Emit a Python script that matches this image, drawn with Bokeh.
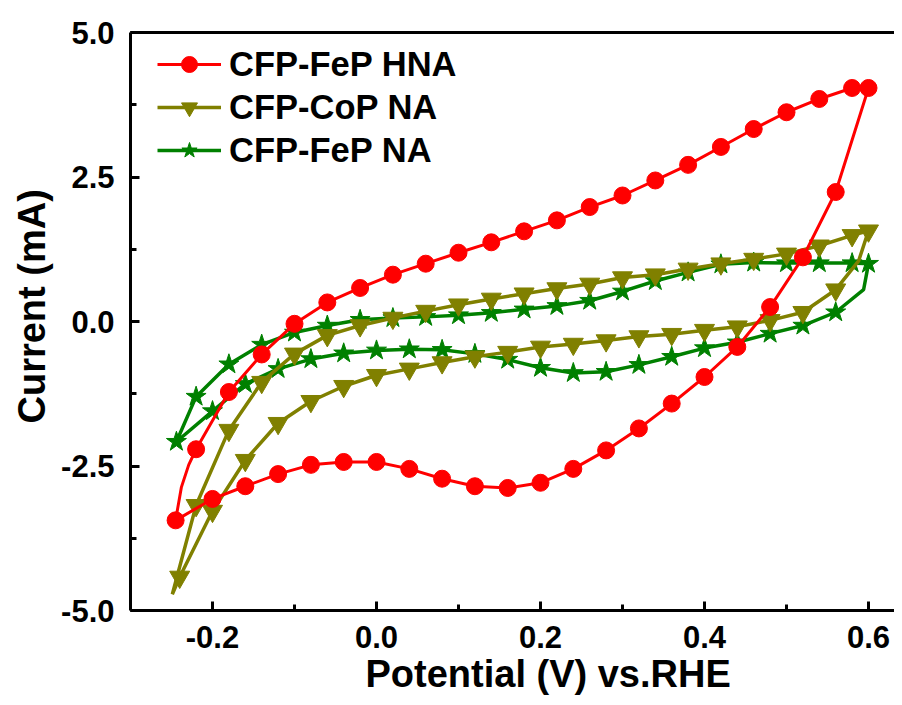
from bokeh.plotting import figure
from bokeh.models import (Range1d, SingleIntervalTicker, PrintfTickFormatter, LinearAxis,
                          FixedTicker, Title, Legend, LegendItem)
from bokeh.embed import file_html
from bokeh.resources import INLINE

# ---------------- data ----------------
# CFP-FeP HNA : anodic (forward) branch markers
hna_fwd_v = [-0.245, -0.22, -0.18, -0.14, -0.10, -0.06, -0.02, 0.02, 0.06, 0.10, 0.14, 0.18,
             0.22, 0.26, 0.30, 0.34, 0.38, 0.42, 0.46, 0.50, 0.54, 0.58, 0.60]
hna_fwd_i = [-3.44, -2.21, -1.22, -0.57, -0.04, 0.33, 0.58, 0.81, 1.00, 1.19, 1.37, 1.56,
             1.75, 1.98, 2.18, 2.44, 2.71, 3.02, 3.33, 3.62, 3.85, 4.04, 4.04]
# cathodic (reverse) branch markers
hna_rev_v = [0.56, 0.52, 0.48, 0.44, 0.40, 0.36, 0.32, 0.28, 0.24, 0.20, 0.16, 0.12,
             0.08, 0.04, 0.00, -0.04, -0.08, -0.12, -0.16, -0.20]
hna_rev_i = [2.24, 1.11, 0.25, -0.44, -0.96, -1.42, -1.85, -2.23, -2.55, -2.79, -2.88, -2.85,
             -2.72, -2.55, -2.43, -2.43, -2.48, -2.64, -2.85, -3.07]
# curve points without markers (lower-left bend)
hna_bend_v = [-0.238, -0.229]
hna_bend_i = [-2.87, -2.48]

# CFP-CoP NA
cop_fwd_v = [-0.22, -0.18, -0.14, -0.10, -0.06, -0.02, 0.02, 0.06, 0.10, 0.14, 0.18, 0.22,
             0.26, 0.30, 0.34, 0.38, 0.42, 0.46, 0.50, 0.54, 0.58, 0.60]
cop_fwd_i = [-3.18, -1.88, -1.05, -0.56, -0.24, -0.07, 0.06, 0.18, 0.29, 0.39, 0.48, 0.57,
             0.65, 0.76, 0.81, 0.91, 1.00, 1.08, 1.17, 1.31, 1.49, 1.57]
cop_rev_v = [0.56, 0.52, 0.48, 0.44, 0.40, 0.36, 0.32, 0.28, 0.24, 0.20, 0.16, 0.12,
             0.08, 0.04, 0.00, -0.04, -0.08, -0.12, -0.16, -0.20, -0.24]
cop_rev_i = [0.55, 0.16, 0.02, -0.09, -0.15, -0.22, -0.26, -0.33, -0.39, -0.44, -0.53, -0.61,
             -0.71, -0.82, -0.93, -1.12, -1.38, -1.76, -2.40, -3.28, -4.42]
cop_bend_top_v = [0.588]
cop_bend_top_i = [1.05]
cop_bend_bot_v = [-0.249]
cop_bend_bot_i = [-4.72]

# CFP-FeP NA
fep_fwd_v = [-0.22, -0.18, -0.14, -0.10, -0.06, -0.02, 0.02, 0.06, 0.10, 0.14, 0.18, 0.22,
             0.26, 0.30, 0.34, 0.38, 0.42, 0.46, 0.50, 0.54, 0.58, 0.60]
fep_fwd_i = [-1.30, -0.74, -0.40, -0.19, -0.07, 0.03, 0.06, 0.08, 0.11, 0.15, 0.21, 0.27,
             0.36, 0.52, 0.70, 0.85, 0.99, 1.02, 1.01, 1.01, 1.01, 1.00]
fep_rev_v = [0.56, 0.52, 0.48, 0.44, 0.40, 0.36, 0.32, 0.28, 0.24, 0.20, 0.16, 0.12,
             0.08, 0.04, 0.00, -0.04, -0.08, -0.12, -0.16, -0.20, -0.244]
fep_rev_i = [0.16, -0.07, -0.21, -0.36, -0.46, -0.61, -0.75, -0.87, -0.89, -0.80, -0.66, -0.56,
             -0.49, -0.48, -0.50, -0.55, -0.65, -0.82, -1.08, -1.55, -2.08]
fep_bend_top_v = [0.594]
fep_bend_top_i = [0.55]

labels = ["CFP-FeP HNA", "CFP-CoP NA", "CFP-FeP NA"]
x_title = "Potential (V) vs.RHE"
y_title = "Current (mA)"

FONT = "Liberation Sans"
RED, OLIVE, GREEN = "#FF0000", "#808000", "#008000"

p = figure(frame_width=764, frame_height=578, output_backend="svg", toolbar_location=None,
           x_range=Range1d(-0.3, 0.6317), y_range=Range1d(-5, 5),
           min_border_left=130, min_border_top=32, min_border_right=0, min_border_bottom=95)
p.outline_line_color = None
p.grid.visible = False
p.background_fill_color = "white"
p.border_fill_color = "white"

xa = p.below[0]
ya = p.left[0]
xa.ticker = SingleIntervalTicker(interval=0.2, num_minor_ticks=2)
ya.ticker = SingleIntervalTicker(interval=2.5, num_minor_ticks=2)
for ax in (xa, ya):
    ax.formatter = PrintfTickFormatter(format="%.1f")
    ax.axis_line_width = 3
    ax.axis_line_color = "black"
    ax.major_tick_in = 9
    ax.major_tick_out = 0
    ax.minor_tick_in = 6
    ax.minor_tick_out = 0
    ax.major_tick_line_width = 3
    ax.minor_tick_line_width = 3
    ax.major_label_text_font = FONT
    ax.major_label_text_font_style = "bold"
    ax.major_label_text_font_size = "31px"
    ax.major_label_text_color = "black"
xa.major_label_standoff = 15
ya.major_label_standoff = 16

top = LinearAxis(ticker=FixedTicker(ticks=[]), axis_line_width=3, axis_line_color="black",
                 major_tick_in=0, major_tick_out=0, minor_tick_in=0, minor_tick_out=0,
                 major_label_text_font_size="0px")
p.add_layout(top, "above")

# axis titles (the original figure is cropped, so they sit off-centre)
xt = Title(text=x_title, align="left", offset=235, text_font=FONT,
           text_font_size="38px", text_font_style="bold", text_color="black", standoff=0)
p.add_layout(xt, "below")
yt = Title(text=y_title, align="left", offset=187, text_font=FONT,
           text_font_size="38px", text_font_style="bold", text_color="black", standoff=12)
p.add_layout(yt, "left")

# paths
hna_x = hna_fwd_v[:1] + hna_bend_v + hna_fwd_v[1:] + hna_rev_v + hna_fwd_v[:1]
hna_y = hna_fwd_i[:1] + hna_bend_i + hna_fwd_i[1:] + hna_rev_i + hna_fwd_i[:1]
cop_x = cop_fwd_v + cop_bend_top_v + cop_rev_v + cop_bend_bot_v + cop_fwd_v[:1]
cop_y = cop_fwd_i + cop_bend_top_i + cop_rev_i + cop_bend_bot_i + cop_fwd_i[:1]
fep_x = fep_fwd_v + fep_bend_top_v + fep_rev_v + fep_fwd_v[:1]
fep_y = fep_fwd_i + fep_bend_top_i + fep_rev_i + fep_fwd_i[:1]

g_line = p.line(fep_x, fep_y, line_color=GREEN, line_width=3.5)
g_mk = p.scatter(fep_fwd_v + fep_rev_v, fep_fwd_i + fep_rev_i, marker="star", size=21,
                 fill_color=GREEN, line_color=GREEN)
o_line = p.line(cop_x, cop_y, line_color=OLIVE, line_width=3.5)
o_mk = p.scatter(cop_fwd_v + cop_rev_v, cop_fwd_i + cop_rev_i, marker="inverted_triangle",
                 size=20, fill_color=OLIVE, line_color=OLIVE)
r_line = p.line(hna_x, hna_y, line_color=RED, line_width=3)
r_mk = p.scatter(hna_fwd_v + hna_rev_v, hna_fwd_i + hna_rev_i, marker="circle", size=17,
                 fill_color=RED, line_color=RED)

legend = Legend(items=[LegendItem(label=labels[0], renderers=[r_line, r_mk]),
                       LegendItem(label=labels[1], renderers=[o_line, o_mk]),
                       LegendItem(label=labels[2], renderers=[g_line, g_mk])],
                location=(27, 440), margin=0, padding=0, spacing=3,
                glyph_width=64, glyph_height=40, label_height=40, label_standoff=8,
                label_text_font=FONT, label_text_font_style="bold",
                label_text_font_size="34.5px", label_text_color="black",
                border_line_color=None, background_fill_alpha=0)
p.add_layout(legend, "center")

open("out.html", "w").write(file_html(p, INLINE))
